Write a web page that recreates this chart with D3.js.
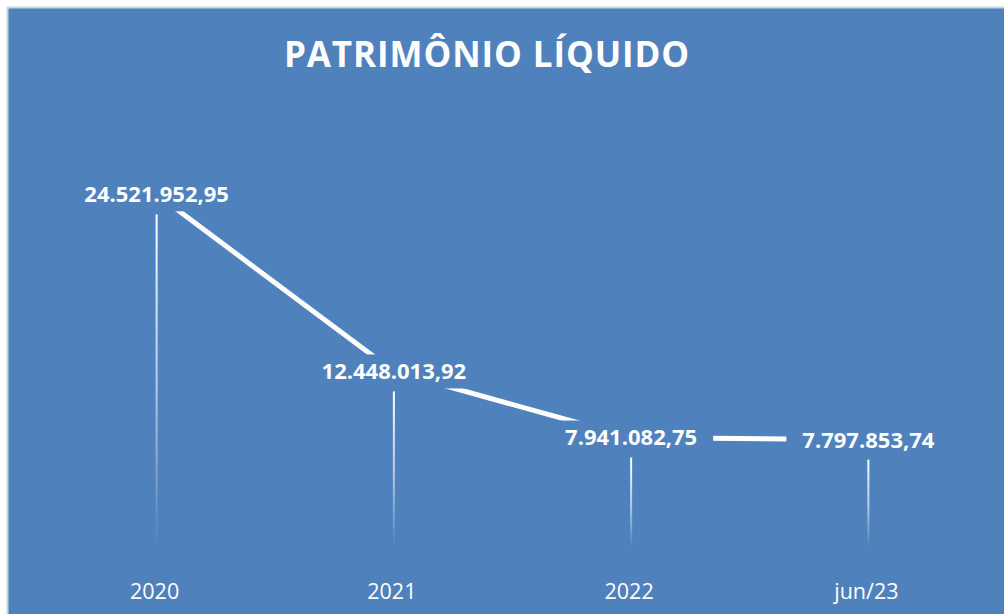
<!DOCTYPE html>
<html>
<head>
<meta charset="utf-8">
<script src="https://cdn.jsdelivr.net/npm/d3@7"></script>
<style>
  body { margin: 0; background: #fff; }
  svg { display: block; }
</style>
</head>
<body>
<div id="chart"></div>
<script>
// patrimônio líquido por período
var categories = ["2020", "2021", "2022", "jun/23"];
var values = [24521952.95, 12448013.92, 7941082.75, 7797853.74];
var valueLabels = ["24.521.952,95", "12.448.013,92", "7.941.082,75", "7.797.853,74"];
var title = "PATRIMÔNIO LÍQUIDO";

const W = 1004, H = 614;
const bg = "#4f81bd";
const margin = {top: 114, right: 17, bottom: 60, left: 38},
      width = W - margin.left - margin.right,
      height = H - margin.top - margin.bottom;

var root = d3.select("#chart")
  .append("svg")
  .attr("width", W)
  .attr("height", H);

var defs = root.append("defs");
var grad = defs.append("linearGradient")
  .attr("id", "dropFade")
  .attr("x1", 0).attr("y1", 0).attr("x2", 0).attr("y2", 1);
grad.append("stop").attr("offset", "0%").attr("stop-color", "#fff").attr("stop-opacity", 1);
grad.append("stop").attr("offset", "55%").attr("stop-color", "#fff").attr("stop-opacity", 0.55);
grad.append("stop").attr("offset", "100%").attr("stop-color", "#fff").attr("stop-opacity", 0);

// frame
root.append("rect")
  .attr("x", 7.5).attr("y", 7.5)
  .attr("width", W).attr("height", H)
  .attr("fill", bg)
  .attr("stroke", "#d0d4d8")
  .attr("stroke-width", 2);

root.append("text")
  .attr("x", 487)
  .attr("y", 67)
  .attr("text-anchor", "middle")
  .style("font-family", "'Open Sans', sans-serif")
  .style("font-weight", "bold")
  .style("font-size", "35px")
  .style("letter-spacing", "0.9px")
  .style("fill", "#fff")
  .text(title);

var svg = root.append("g")
  .attr("transform", "translate(" + margin.left + "," + margin.top + ")");

var x = d3.scaleBand()
  .domain(categories)
  .range([0, width]);
var y = d3.scaleLinear()
  .domain([0, 30000000])
  .range([height, 0]);

var cx = function(d, i) { return x(categories[i]) + x.bandwidth() / 2; };

var xAxis = d3.axisBottom(x).tickSize(0).tickPadding(30);
var gx = svg.append("g")
  .attr("class", "axis-x")
  .attr("transform", "translate(0," + height + ")")
  .call(xAxis);
gx.select(".domain").remove();
gx.selectAll("text")
  .attr("dx", "-2px")
  .style("font-family", "'Open Sans', sans-serif")
  .style("font-size", "21.5px")
  .style("fill", "#fff");

var boxH = 17, padX = 16;

// drop lines
svg.selectAll(".drop")
  .data(values)
  .enter()
  .append("rect")
  .attr("class", "drop")
  .attr("x", function(d, i) { return cx(d, i) - 1; })
  .attr("y", function(d) { return y(d) + 20; })
  .attr("width", 2)
  .attr("height", function(d) { return height - 6 - (y(d) + 20); })
  .attr("fill", "url(#dropFade)");

var line = d3.line()
  .x(function(d, i) { return cx(d, i); })
  .y(function(d) { return y(d); });

svg.append("path")
  .datum(values)
  .attr("d", line)
  .attr("fill", "none")
  .attr("stroke", "#fff")
  .attr("stroke-width", 5);

var labels = svg.selectAll(".lbl")
  .data(values)
  .enter()
  .append("g")
  .attr("class", "lbl")
  .attr("transform", function(d, i) { return "translate(" + cx(d, i) + "," + y(d) + ")"; });

labels.append("text")
  .attr("text-anchor", "middle")
  .attr("dy", "0.36em")
  .style("font-family", "'Open Sans', sans-serif")
  .style("font-weight", "bold")
  .style("font-size", "22px")
  .style("fill", "#fff")
  .text(function(d, i) { return valueLabels[i]; });

labels.insert("rect", "text")
  .attr("x", function() { return -this.parentNode.querySelector("text").getComputedTextLength() / 2 - padX; })
  .attr("y", -boxH)
  .attr("width", function() { return this.parentNode.querySelector("text").getComputedTextLength() + 2 * padX; })
  .attr("height", boxH * 2)
  .attr("fill", bg);
</script>
</body>
</html>
